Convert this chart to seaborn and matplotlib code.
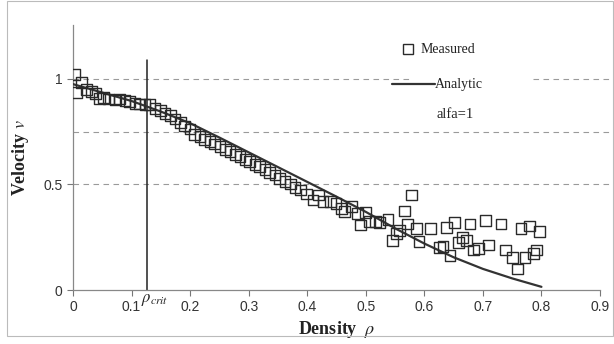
import matplotlib
matplotlib.use("Agg")
import matplotlib.pyplot as plt
import seaborn as sns
import pandas as pd
from matplotlib.patches import Rectangle

# Measured data (density, velocity)
meas_x = [0.002, 0.006, 0.015, 0.023, 0.032, 0.038, 0.045, 0.052, 0.060, 0.072,
          0.080, 0.089, 0.097, 0.106, 0.114, 0.123, 0.131, 0.140, 0.149, 0.157,
          0.166, 0.174, 0.183, 0.191, 0.200, 0.208, 0.217, 0.225, 0.234, 0.242,
          0.251, 0.260, 0.268, 0.277, 0.285, 0.294, 0.302, 0.311, 0.319, 0.328,
          0.336, 0.345, 0.353, 0.362, 0.371, 0.379, 0.388, 0.399, 0.410, 0.419,
          0.427, 0.440, 0.449, 0.459, 0.464, 0.476, 0.486, 0.491, 0.500, 0.507,
          0.516, 0.524, 0.538, 0.545, 0.552, 0.558, 0.566, 0.571, 0.578, 0.586,
          0.591, 0.611, 0.626, 0.632, 0.638, 0.644, 0.651, 0.658, 0.665, 0.672,
          0.678, 0.684, 0.692, 0.705, 0.710, 0.731, 0.739, 0.751, 0.759, 0.765,
          0.772, 0.779, 0.786, 0.792, 0.797]
meas_y = [1.020, 0.935, 0.984, 0.948, 0.940, 0.929, 0.908, 0.913, 0.905, 0.900,
          0.904, 0.896, 0.892, 0.885, 0.881, 0.877, 0.877, 0.861, 0.850, 0.837,
          0.825, 0.810, 0.793, 0.777, 0.762, 0.738, 0.727, 0.714, 0.703, 0.692,
          0.679, 0.667, 0.655, 0.643, 0.632, 0.619, 0.608, 0.596, 0.584, 0.569,
          0.556, 0.545, 0.529, 0.513, 0.502, 0.485, 0.474, 0.455, 0.426, 0.450,
          0.419, 0.419, 0.411, 0.387, 0.371, 0.395, 0.363, 0.308, 0.368, 0.324,
          0.324, 0.319, 0.335, 0.234, 0.269, 0.281, 0.374, 0.313, 0.450, 0.290,
          0.229, 0.290, 0.200, 0.205, 0.295, 0.164, 0.319, 0.226, 0.250, 0.234,
          0.313, 0.190, 0.198, 0.330, 0.213, 0.313, 0.190, 0.155, 0.100, 0.292,
          0.155, 0.303, 0.174, 0.190, 0.276]

# Analytic curve
ana_x = [0.0, 0.05, 0.10, 0.15, 0.20, 0.25, 0.30, 0.35, 0.40, 0.45,
         0.50, 0.55, 0.60, 0.65, 0.70, 0.75, 0.80]
ana_y = [0.975, 0.935, 0.895, 0.845, 0.790, 0.722, 0.652, 0.582, 0.512, 0.442,
         0.370, 0.292, 0.220, 0.155, 0.100, 0.055, 0.015]

rho_crit = 0.126
x_ticks = [0, 0.1, 0.2, 0.3, 0.4, 0.5, 0.6, 0.7, 0.8, 0.9]
x_ticklabels = ["0", "0.1", "0.2", "0.3", "0.4", "0.5", "0.6", "0.7", "0.8", "0.9"]
y_ticks = [0, 0.5, 1]
y_ticklabels = ["0", "0.5", "1"]
grid_y = [0.5, 0.75, 1.0]

sns.set_style("white")
plt.rcParams['font.family'] = ['Liberation Sans', 'DejaVu Sans']
plt.rcParams['mathtext.fontset'] = 'stix'

fig = plt.figure(figsize=(6.14, 3.44), dpi=100)
ax = fig.add_axes([73/614, 54/344, 527/614, 265/344])

dfm = pd.DataFrame({"x": meas_x, "y": meas_y})
dfa = pd.DataFrame({"x": ana_x, "y": ana_y})

for g in grid_y:
    ax.plot([0, 0.925], [g, g], color="#9a9a9a", lw=0.8, ls=(0, (5, 4)),
            zorder=0, clip_on=False)

ax.plot([rho_crit, rho_crit], [0, 1.09], color="#222222", lw=1.1, zorder=1)

sns.lineplot(data=dfa, x="x", y="y", ax=ax, color="#333333", lw=1.6,
             zorder=3, legend=False)
sns.scatterplot(data=dfm, x="x", y="y", ax=ax, marker="s", s=60,
                facecolor="none", edgecolor="#2a2a2a", linewidth=1.0,
                zorder=4, legend=False)

ax.set_xlim(0, 0.9)
ax.set_ylim(0, 1.255)
ax.set_xticks(x_ticks)
ax.set_xticklabels(x_ticklabels)
ax.set_yticks(y_ticks)
ax.set_yticklabels(y_ticklabels)
ax.tick_params(axis="both", which="both", direction="out", length=4, width=0.8,
               color="#777777", labelsize=10, labelcolor="#333333", bottom=True, left=True)
for s in ["top", "right"]:
    ax.spines[s].set_visible(False)
for s in ["left", "bottom"]:
    ax.spines[s].set_color("#888888")
    ax.spines[s].set_linewidth(0.9)

serif = ['Liberation Serif', 'DejaVu Serif']
ax.set_xlabel(r"Density  $\rho$", fontsize=13, fontweight="bold", family=serif,
              color="#222222", labelpad=3)
ax.set_ylabel(r"Velocity $v$", fontsize=13, fontweight="bold", family=serif,
              color="#222222", labelpad=9)

ax.text(rho_crit - 0.01, -0.008, r"$\rho_{crit}$", fontsize=12, ha="left", va="top",
        color="#222222")

# legend-like block
ax.add_patch(Rectangle((0.58, 0.96), 0.2, 0.1, facecolor="white", edgecolor="none",
                       zorder=2))
ax.plot([0.572], [1.14], marker="s", ms=7, mfc="none", mec="#2a2a2a", mew=1.0,
        zorder=5, clip_on=False)
ax.text(0.593, 1.14, "Measured", fontsize=10, family=serif, va="center",
        color="#222222")
ax.plot([0.545, 0.618], [0.975, 0.975], color="#333333", lw=1.6, zorder=5)
ax.text(0.618, 0.975, "Analytic", fontsize=10, family=serif, va="center",
        color="#222222")
ax.text(0.62, 0.83, "alfa=1", fontsize=10.5, family=serif, va="center",
        color="#222222")

fig.patches.append(Rectangle((7/614, 8/344), 606/614, 335/344, transform=fig.transFigure,
                             fill=False, edgecolor="#bbbbbb", lw=0.8))

fig.savefig("out.png", dpi=100)
